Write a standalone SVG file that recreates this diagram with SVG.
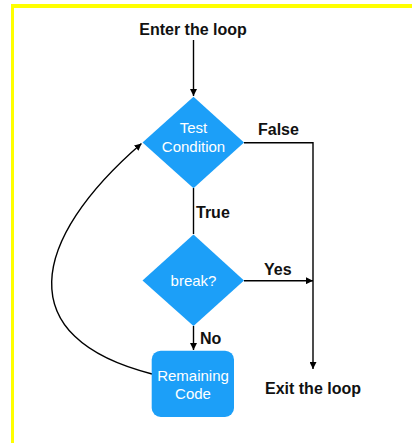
<svg xmlns="http://www.w3.org/2000/svg" width="412" height="443" viewBox="0 0 412 443">
  <style>
    .frame { fill: #FFFF00; }
    .shape { fill: #1C9FF8; }
    .wire { fill: none; stroke: #000; stroke-width: 1.4; }
    .label { font-family: "Liberation Sans", Arial, sans-serif; font-weight: bold; font-size: 16px; fill: #111; }
    .inner { font-family: "Liberation Sans", Arial, sans-serif; font-size: 15px; fill: #fff; text-anchor: middle; }
  </style>
  <defs>
    <marker id="arrow" viewBox="0 0 10 10" refX="10" refY="5" markerWidth="7" markerHeight="7" markerUnits="userSpaceOnUse" orient="auto">
      <path d="M0,0 L10,5 L0,10 z" fill="#000"/>
    </marker>
  </defs>

  <rect width="412" height="443" fill="#fff"/>
  <!-- yellow frame edges (top and left) -->
  <rect class="frame" x="11" y="4" width="401" height="4"/>
  <rect class="frame" x="11" y="4" width="3" height="439"/>

  <g id="connectors">
    <path class="wire" d="M193.5,40 V96" marker-end="url(#arrow)"/>
    <path class="wire" d="M244,142.7 H313 V369" marker-end="url(#arrow)"/>
    <path class="wire" d="M193.5,188 V234"/>
    <path class="wire" d="M244,280.7 H313" marker-end="url(#arrow)"/>
    <path class="wire" d="M193.5,326 V350" marker-end="url(#arrow)"/>
    <path class="wire" d="M152,374 C10,338 30,240 141.5,143.5" marker-end="url(#arrow)"/>
    <text class="label" x="258" y="135">False</text>
    <text class="label" x="196" y="218">True</text>
    <text class="label" x="264" y="275">Yes</text>
    <text class="label" x="200" y="344">No</text>
  </g>

  <g id="enter">
    <text class="label" x="193" y="35" text-anchor="middle">Enter the loop</text>
  </g>

  <g id="test-condition">
    <path class="shape" d="M193.5,96.7 L244,142.5 L193.5,188.3 L142.5,142.5 z"/>
    <text class="inner" x="193.5" y="133">Test</text>
    <text class="inner" x="193.5" y="152">Condition</text>
  </g>

  <g id="break-check">
    <path class="shape" d="M193.5,234.5 L244,280.5 L193.5,326 L142.5,280.5 z"/>
    <text class="inner" x="193.5" y="286">break?</text>
  </g>

  <g id="remaining-code">
    <rect class="shape" x="151.7" y="350.7" width="82.3" height="66.3" rx="9"/>
    <text class="inner" x="193" y="381">Remaining</text>
    <text class="inner" x="193" y="398.5">Code</text>
  </g>

  <g id="exit">
    <text class="label" x="313" y="394" text-anchor="middle">Exit the loop</text>
  </g>
</svg>
